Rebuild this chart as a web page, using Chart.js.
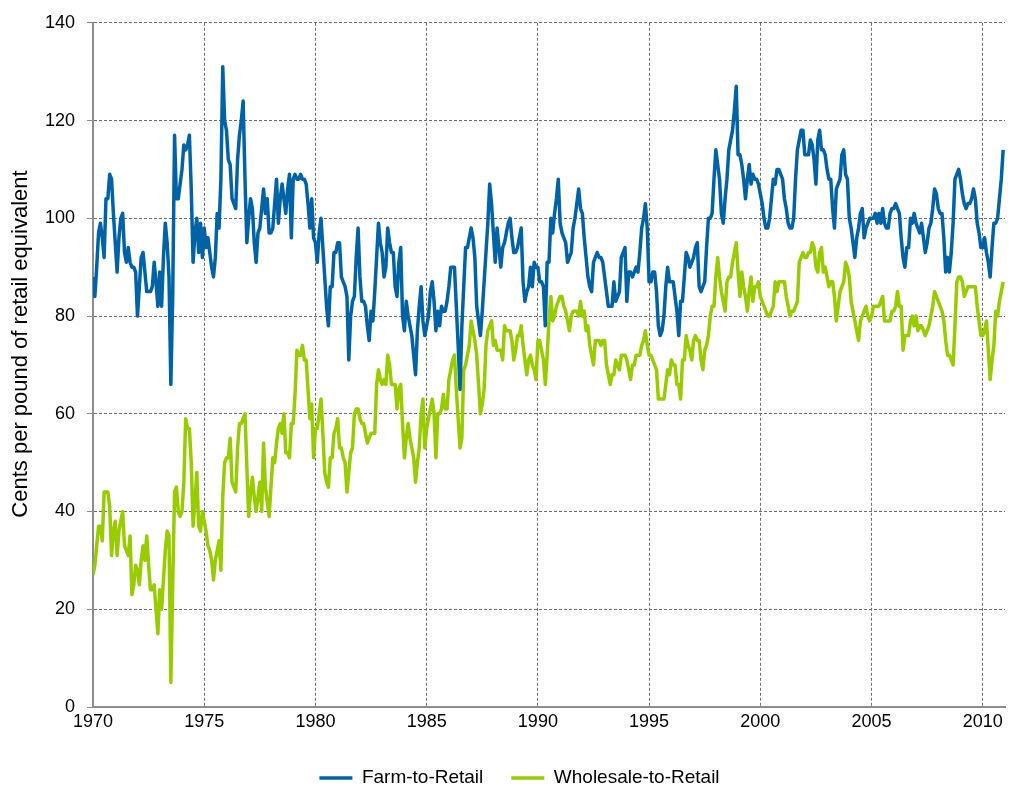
<!DOCTYPE html>
<html>
<head>
<meta charset="utf-8">
<script src="https://cdn.jsdelivr.net/npm/chart.js@4.4.0/dist/chart.umd.min.js"></script>
<style>
  html, body { margin: 0; padding: 0; background: #fff; }
</style>
</head>
<body>
<canvas id="margins" width="1010" height="790"></canvas>
<script>
// monthly series, Jan 1970 .. Dec 2010 (one row per year)
const startYear = 1970;
const xTickYears = [1970, 1975, 1980, 1985, 1990, 1995, 2000, 2005, 2010];
const yTitle = 'Cents per pound of retail equivalent';
const seriesNames = ['Farm-to-Retail', 'Wholesale-to-Retail'];

const farmToRetail = [
  88, 84, 90, 97, 99, 96, 92, 104, 104, 109, 108, 101,
  95, 89, 96, 100, 101, 93, 91, 94, 91, 90, 90, 89,
  80, 86, 92, 93, 89, 85, 85, 85, 86, 91, 87, 82,
  89, 82, 92, 99, 95, 88, 66, 84, 117, 104, 104, 107,
  110, 115, 114, 115, 117, 106, 91, 97, 100, 93, 99, 92,
  98, 94, 96, 93, 90, 88, 92, 101, 98, 108, 131, 120,
  118, 112, 111, 104, 103, 102, 112, 117, 120, 124, 108, 95,
  100, 104, 102, 95, 91, 97, 98, 102, 106, 101, 104, 97,
  97, 98, 103, 108, 99, 104, 107, 104, 101, 106, 109, 96,
  108, 109, 108, 108, 109, 108, 108, 107, 103, 98, 104, 96,
  95, 91, 97, 100, 94, 88, 82, 78, 86, 86, 93, 93,
  95, 95, 88, 87, 86, 84, 71, 80, 83, 84, 92, 98,
  88, 83, 83, 82, 78, 75, 81, 79, 85, 92, 99, 95,
  93, 88, 90, 98, 95, 93, 93, 86, 84, 91, 94, 80,
  77, 83, 80, 78, 76, 72, 68, 77, 82, 86, 79, 76,
  78, 80, 85, 87, 83, 77, 81, 78, 82, 81, 81, 83,
  86, 90, 90, 90, 82, 74, 65, 78, 86, 94, 94, 96,
  98, 96, 92, 82, 79, 76, 81, 87, 93, 99, 107, 103,
  97, 91, 98, 94, 90, 94, 95, 97, 99, 100, 96, 93,
  93, 94, 96, 98, 87, 83, 85, 86, 90, 86, 91, 90,
  90, 87, 87, 86, 78, 91, 91, 100, 97, 101, 104, 108,
  99, 97, 96, 95, 91, 92, 93, 98, 100, 103, 106, 102,
  101, 96, 92, 88, 86, 85, 91, 92, 93, 92, 92, 91,
  88, 85, 82, 82, 82, 87, 83, 84, 85, 92, 93, 94,
  83, 89, 89, 88, 89, 90, 89, 93, 98, 100, 103, 98,
  87, 87, 89, 89, 85, 78, 76, 77, 80, 86, 90, 87,
  87, 87, 84, 81, 76, 83, 83, 88, 93, 92, 90, 91,
  92, 94, 95, 86, 85, 86, 87, 94, 100, 100, 101, 108,
  114, 111, 108, 101, 99, 104, 108, 114, 116, 118, 122, 127,
  113, 113, 111, 108, 104, 108, 111, 107, 109, 108, 108, 107,
  105, 103, 100, 98, 98, 100, 104, 108, 107, 110, 110, 109,
  108, 104, 102, 99, 98, 98, 100, 108, 114, 116, 118, 118,
  113, 113, 113, 116, 115, 112, 107, 116, 118, 114, 114, 113,
  110, 108, 108, 102, 98, 106, 107, 108, 113, 114, 109, 108,
  100, 98, 95, 92, 96, 98, 101, 102, 96, 98, 99, 100,
  100, 100, 101, 99, 101, 99, 102, 99, 98, 98, 101, 102,
  102, 103, 102, 101, 96, 92, 90, 94, 94, 100, 99, 101,
  99, 98, 97, 99, 96, 93, 95, 98, 99, 102, 106, 105,
  102, 101, 101, 96, 89, 92, 89, 93, 99, 108, 109, 110,
  108, 105, 103, 102, 103, 103, 104, 106, 104, 99, 97, 94,
  94, 96, 93, 91, 88, 94, 99, 99, 100, 104, 108, 114
];

const wholesaleToRetail = [
  27, 29, 33, 37, 37, 34, 44, 44, 44, 41, 31, 36,
  38, 31, 36, 38, 40, 33, 32, 31, 35, 23, 25, 29,
  28, 25, 30, 33, 30, 35, 29, 24, 24, 25, 20, 15,
  24, 20, 26, 32, 36, 35, 5, 25, 44, 45, 40, 39,
  40, 46, 59, 57, 57, 50, 37, 42, 48, 37, 36, 40,
  38, 36, 33, 32, 30, 26, 30, 32, 34, 28, 43, 50,
  51, 51, 55, 46, 45, 44, 53, 58, 58, 59, 60, 49,
  39, 44, 47, 43, 40, 43, 46, 40, 54, 45, 42, 39,
  45, 51, 50, 54, 57, 58, 56, 60, 52, 52, 51, 58,
  58, 64, 73, 72, 72, 74, 71, 71, 65, 59, 62, 51,
  57, 57, 60, 63, 56, 48, 46, 45, 51, 51, 56, 57,
  59, 53, 53, 51, 50, 44, 48, 52, 53, 60, 61, 61,
  59, 58, 58, 56, 54, 55, 56, 56, 56, 66, 69, 67,
  66, 67, 66, 72, 70, 66, 66, 66, 61, 65, 66, 58,
  51, 55, 58, 55, 53, 51, 46, 50, 53, 60, 63, 53,
  57, 59, 61, 63, 60, 51, 60, 60, 61, 64, 61, 61,
  67, 69, 71, 72, 65, 59, 53, 55, 69, 70, 72, 74,
  79, 77, 75, 72, 66, 60, 62, 65, 74, 77, 78, 79,
  74, 75, 73, 73, 73, 71, 78, 77, 77, 77, 75, 71,
  73, 76, 76, 78, 74, 71, 68, 71, 72, 70, 69, 67,
  75, 75, 73, 71, 66, 72, 79, 84, 79, 80, 82, 83,
  84, 84, 82, 81, 79, 77, 80, 81, 81, 81, 80, 83,
  80, 81, 77, 78, 74, 72, 70, 75, 75, 75, 74, 75,
  75, 70, 68, 66, 68, 68, 71, 70, 69, 72, 72, 72,
  71, 69, 67, 70, 70, 72, 72, 72, 74, 75, 77, 74,
  72, 72, 71, 70, 69, 63, 63, 63, 63, 66, 69, 68,
  71, 70, 70, 66, 66, 63, 71, 71, 76, 74, 73, 71,
  75, 76, 75, 75, 71, 69, 73, 74, 76, 80, 82, 82,
  88, 92, 88, 85, 83, 81, 87, 88, 88, 91, 93, 95,
  89, 84, 89, 86, 84, 81, 85, 88, 83, 86, 86, 87,
  84, 83, 82, 81, 80, 80, 81, 82, 87, 85, 87, 87,
  87, 87, 84, 82, 80, 81, 81, 82, 83, 91, 92, 93,
  92, 92, 93, 93, 95, 94, 90, 89, 93, 94, 89, 90,
  88, 86, 87, 87, 84, 79, 82, 85, 86, 87, 91, 90,
  88, 83, 81, 79, 77, 75, 79, 80, 81, 82, 80, 79,
  80, 82, 82, 82, 82, 83, 84, 79, 79, 79, 79, 81,
  81, 82, 85, 82, 82, 73, 76, 76, 76, 79, 80, 78,
  80, 77, 78, 78, 77, 76, 77, 78, 80, 82, 85, 84,
  83, 82, 81, 79, 75, 72, 72, 71, 70, 78, 87, 88,
  88, 87, 84, 85, 86, 86, 86, 86, 86, 82, 79, 76,
  76, 77, 79, 73, 67, 71, 74, 81, 80, 83, 85, 87
];

const toPoints = arr => arr.map((v, i) => ({ x: startYear + i / 12, y: v }));

const gridColor = '#6f6f6f';
const axisColor = '#8c8c8c';

// rotated y-axis title, placed like the original
const yTitlePlugin = {
  id: 'yTitle',
  afterDraw(chart) {
    const c = chart.ctx;
    c.save();
    c.translate(21, 344);
    c.rotate(-Math.PI / 2);
    c.font = '22px "Liberation Sans", Arial, sans-serif';
    c.fillStyle = '#000';
    c.textAlign = 'center';
    c.textBaseline = 'middle';
    c.fillText(yTitle, 0, 0);
    c.restore();
  }
};

Chart.defaults.font.family = '"Liberation Sans", Arial, sans-serif';
Chart.defaults.color = '#000';

const ctx = document.getElementById('margins').getContext('2d');
new Chart(ctx, {
  type: 'line',
  data: {
    datasets: [
      {
        label: seriesNames[0],
        data: toPoints(farmToRetail),
        borderColor: '#0063A5',
        backgroundColor: '#0063A5',
        borderWidth: 3.5,
        borderJoinStyle: 'round',
        pointRadius: 0,
        pointStyle: 'line',
        tension: 0
      },
      {
        label: seriesNames[1],
        data: toPoints(wholesaleToRetail),
        borderColor: '#99CC00',
        backgroundColor: '#99CC00',
        borderWidth: 3.5,
        borderJoinStyle: 'round',
        pointRadius: 0,
        pointStyle: 'line',
        tension: 0
      }
    ]
  },
  options: {
    responsive: false,
    animation: false,
    devicePixelRatio: 1,
    layout: { padding: { left: 34, right: 5, top: 15, bottom: -7.5 } },
    scales: {
      x: {
        type: 'linear',
        min: 1970,
        max: 2011,
        afterBuildTicks: scale => { scale.ticks = xTickYears.map(v => ({ value: v })); },
        afterFit: scale => { scale.height = 33.5; },
        ticks: {
          callback: v => String(v),
          font: { size: 18 },
          padding: 4,
          maxRotation: 0,
          autoSkip: false
        },
        grid: {
          color: c => (c.tick && c.tick.value === startYear) ? 'rgba(0,0,0,0)' : gridColor,
          lineWidth: 1,
          drawTicks: false
        },
        border: { color: axisColor, width: 2, dash: [3, 2] }
      },
      y: {
        min: 0,
        max: 140,
        afterFit: scale => { scale.width = 59; },
        ticks: { stepSize: 20, font: { size: 18 }, padding: 12 },
        grid: {
          color: c => (c.tick && c.tick.value === 0) ? 'rgba(0,0,0,0)' : gridColor,
          lineWidth: 1,
          tickLength: 6,
          tickColor: axisColor,
          tickWidth: 1
        },
        border: { color: axisColor, width: 2, dash: [3, 2] }
      }
    },
    plugins: {
      legend: {
        position: 'bottom',
        labels: {
          usePointStyle: true,
          pointStyleWidth: 33,
          font: { size: 19 },
          color: '#000',
          padding: 28
        }
      },
      tooltip: { enabled: false }
    }
  },
  plugins: [yTitlePlugin]
});
</script>
</body>
</html>
